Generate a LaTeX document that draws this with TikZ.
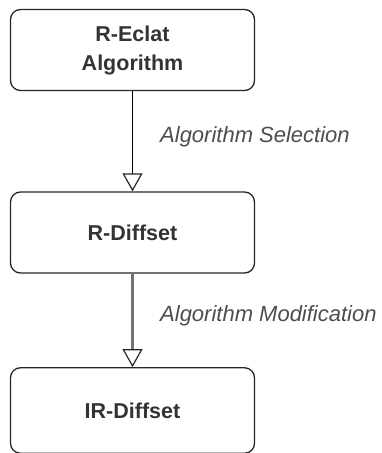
\documentclass[tikz,border=0pt]{standalone}
\usepackage{fontspec}
\setmainfont{Liberation Sans}
\usetikzlibrary{arrows.meta}
\definecolor{boxtext}{HTML}{333333}
\definecolor{lbl}{HTML}{4D4D4D}
\begin{document}
\begin{tikzpicture}[x=1pt,y=-1pt,
  box/.style={draw=black!85,line width=1.3pt,rounded corners=10pt,minimum width=244pt,minimum height=#1,inner sep=0pt,align=center,font=\fontsize{21.5}{29}\selectfont\bfseries,text=boxtext},
  flow/.style={line width=1.4pt,-{Triangle[open,length=18pt,width=20pt,line width=1.2pt,color=black!85]}},
  lab/.style={font=\fontsize{22}{26}\selectfont\itshape,text=lbl,anchor=west,inner sep=0pt}]
\useasboundingbox (0,0) rectangle (381,453);
\node[box=81pt] (a) at (132.5,50) {R-Eclat\\Algorithm};
\node[box=81pt] (b) at (132.5,232.5) {R-Diffset};
\node[box=85.5pt] (c) at (132.5,410.5) {IR-Diffset};
\draw[flow,black] (a.south) -- (b.north);
\draw[flow,black!55,line width=2.2pt] (b.south) -- (c.north);
\node[lab] (l1) at (160,137) {Algorithm Selection};
\node[lab] (l2) at (160,316) {Algorithm Modification};
\end{tikzpicture}
\end{document}
